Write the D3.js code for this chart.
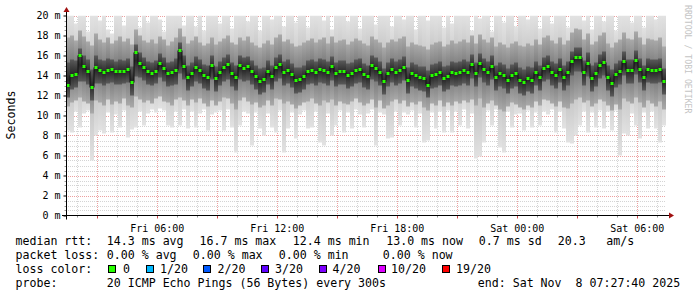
<!DOCTYPE html>
<html lang="en">
<head>
<meta charset="UTF-8">
<title>SmokePing latency</title>
<script src="https://d3js.org/d3.v7.min.js"></script>
<style>
  body { margin: 0; background: #fff; }
  svg text { font-family: "DejaVu Sans Mono", monospace; fill: #000; white-space: pre; }
</style>
</head>
<body>
<script>
    // one value per 12 minute step, ms
    var med = [13.0,14.0,14.1,16.0,14.9,14.4,12.8,14.8,14.5,14.3,
               14.5,14.6,14.4,14.4,14.4,14.6,13.3,16.3,15.2,14.8,
               14.4,14.2,14.4,15.2,14.7,14.2,14.3,14.5,16.5,14.9,
               13.8,14.2,14.8,14.5,14.0,13.8,15.0,13.7,14.3,14.8,
               15.1,14.2,13.8,15.0,14.7,14.9,14.4,13.9,13.4,13.6,
               14.4,13.9,14.8,15.1,14.3,14.5,14.1,13.5,13.6,13.9,
               14.4,14.5,14.3,14.6,14.5,14.3,14.9,14.2,14.4,14.4,
               14.0,14.2,14.5,14.6,14.1,13.9,15.0,14.7,14.3,13.4,
               14.2,14.6,14.3,14.5,14.8,13.5,14.2,14.0,13.8,13.7,
               13.0,14.0,14.1,14.3,13.7,13.9,14.3,14.2,14.3,14.5,
               14.3,15.1,14.2,15.2,14.6,14.3,14.9,13.8,14.2,14.0,
               13.5,14.0,14.2,13.5,13.3,13.7,13.5,14.3,13.8,14.7,
               14.9,14.3,14.0,14.6,13.8,14.3,15.4,15.8,15.8,14.3,
               15.2,13.7,14.2,15.0,15.3,13.8,13.2,14.1,14.4,15.4,
               14.5,14.5,15.5,14.6,13.8,14.6,14.5,14.5,14.6,13.4];

    var lo = [8.5,8.3,10.4,8.8,10.2,10.5,5.5,8.0,8.5,8.2,
              10.3,8.3,10.1,8.8,10.5,7.8,8.6,8.8,10.4,9.0,
              10.2,10.6,10.3,10.7,10.5,9.0,8.8,10.4,9.0,10.6,
              8.7,10.4,8.8,10.2,10.6,8.5,10.1,10.3,10.5,8.5,
              10.6,8.8,6.3,9.0,10.4,10.2,7.0,10.3,8.7,8.0,
              10.2,8.8,8.3,10.5,6.3,8.7,10.3,7.7,10.1,10.5,
              8.7,8.8,10.4,7.3,7.0,10.2,8.0,9.0,10.5,8.3,
              10.3,8.7,10.6,10.1,8.8,10.2,10.6,7.0,10.3,10.1,
              7.7,7.8,10.4,9.0,10.3,10.1,10.5,8.8,10.2,7.3,
              7.5,10.3,8.7,10.4,8.3,10.5,8.3,10.4,9.0,10.6,
              8.7,10.2,5.7,5.9,7.3,10.5,9.0,10.6,6.8,6.3,
              10.4,8.8,10.1,10.2,8.5,10.5,8.8,10.3,9.0,10.4,
              10.1,10.6,8.3,10.4,8.7,7.3,7.2,8.0,9.0,10.4,
              8.3,10.3,8.8,10.5,8.7,10.4,8.5,10.5,6.0,8.2,
              8.0,10.2,9.0,7.7,10.3,8.7,10.4,8.7,7.3,9.0];

    var p1 = [10.9,11.3,11.5,11.8,11.4,11.2,10.2,11.5,11.3,11.0,
              11.6,11.1,11.4,11.2,11.7,11.0,10.8,11.9,11.6,11.3,
              11.5,11.2,11.7,11.9,11.4,11.3,11.0,11.6,11.8,11.5,
              11.0,11.6,11.3,11.7,11.2,10.9,11.5,11.0,11.4,11.8,
              11.7,11.2,10.6,11.5,11.8,11.4,11.1,11.3,10.8,11.0,
              11.5,11.0,11.7,11.6,11.2,11.4,11.1,10.7,11.0,11.3,
              11.4,11.7,11.2,11.0,11.5,11.3,11.6,11.0,11.4,11.2,
              11.1,11.4,11.7,11.3,11.0,11.2,11.6,10.8,11.5,10.7,
              11.0,11.4,11.6,11.2,11.5,10.9,11.3,11.1,11.4,10.8,
              10.5,11.2,11.0,11.5,10.9,11.3,11.0,11.4,11.2,11.5,
              11.3,11.6,11.0,11.7,10.8,11.2,11.5,11.0,10.6,10.4,
              10.9,11.3,11.1,10.8,10.6,11.0,10.8,11.4,11.0,11.6,
              11.5,11.2,10.9,11.4,10.8,10.7,11.2,11.6,11.8,11.3,
              11.5,10.9,11.2,11.6,11.4,11.0,10.5,11.1,10.6,11.7,
              11.4,11.2,11.8,11.3,10.8,11.5,11.2,10.9,11.4,10.6];

    var p2 = [11.8,12.6,12.8,13.4,13.4,13.1,11.5,13.2,13.2,13.0,
              13.2,13.3,13.1,13.1,13.2,13.3,12.0,13.9,13.8,13.5,
              13.1,13.0,13.2,13.8,13.4,12.9,13.0,13.1,14.2,13.6,
              12.5,12.9,13.4,13.2,12.7,12.5,13.6,12.4,13.0,13.4,
              13.6,12.9,12.5,13.6,13.4,13.5,13.1,12.6,12.1,12.3,
              13.1,12.6,13.4,13.7,13.0,13.2,12.8,12.2,12.3,12.6,
              13.1,13.2,13.0,13.3,13.2,13.0,13.5,12.9,13.1,13.1,
              12.7,12.9,13.2,13.3,12.8,12.6,13.6,13.4,13.0,12.1,
              12.9,13.3,13.0,13.2,13.5,12.2,12.9,12.7,12.5,12.4,
              11.8,12.7,12.8,13.0,12.4,12.6,13.0,12.9,13.0,13.2,
              13.0,13.7,12.9,13.8,13.3,13.0,13.6,12.5,12.9,12.7,
              12.2,12.7,12.9,12.2,12.0,12.4,12.2,13.0,12.5,13.4,
              13.6,13.0,12.7,13.3,12.5,13.0,14.0,14.4,14.4,13.0,
              13.9,12.4,12.9,13.7,14.0,12.5,11.9,12.8,13.1,14.0,
              13.2,13.2,14.1,13.3,12.5,13.3,13.2,13.2,13.3,12.1];

    var p3 = [15.3,15.6,15.5,16.7,16.0,15.6,14.6,16.0,15.6,15.5,
              15.7,15.6,15.4,15.6,15.5,15.7,14.9,17.1,16.3,15.8,
              15.4,15.3,15.5,16.2,15.8,15.3,15.4,15.7,17.3,16.0,
              15.0,15.3,15.9,15.6,15.1,15.0,16.0,14.9,15.4,15.8,
              16.1,15.3,15.0,16.0,15.8,15.9,15.5,15.0,14.7,14.8,
              15.5,15.0,15.8,16.1,15.4,15.6,15.2,14.8,14.8,15.0,
              15.5,15.6,15.4,15.7,15.6,15.4,15.9,15.3,15.5,15.5,
              15.2,15.3,15.6,15.7,15.2,15.0,16.0,15.8,15.4,14.7,
              15.3,15.7,15.4,15.6,15.9,14.8,15.3,15.1,14.9,14.9,
              14.5,15.1,15.2,15.4,14.9,15.0,15.4,15.3,15.4,15.6,
              15.4,16.1,15.3,16.2,15.7,15.4,16.0,15.0,15.3,15.1,
              14.7,15.1,15.3,14.8,14.6,14.9,14.8,15.4,15.0,15.8,
              16.0,15.4,15.2,15.7,15.0,15.4,16.4,16.8,16.8,15.5,
              16.3,15.0,15.3,16.1,16.4,15.0,14.6,15.2,15.5,16.4,
              15.6,15.6,16.5,15.7,15.0,15.7,15.6,15.6,15.7,14.7];

    var p4 = [17.8,18.0,17.5,18.5,17.9,17.4,17.0,18.2,17.6,17.3,
              17.8,17.2,17.5,17.9,17.4,17.7,17.1,18.6,18.0,17.5,
              17.3,17.6,17.2,17.9,17.6,17.0,17.4,17.8,18.7,17.9,
              17.2,17.5,17.9,17.3,17.0,17.2,17.8,17.1,17.4,17.7,
              18.0,17.3,17.1,17.8,17.5,17.9,17.3,17.0,16.8,17.2,
              17.5,17.1,17.8,18.1,17.4,17.6,17.2,16.9,17.0,17.3,
              17.5,17.7,17.3,17.6,17.8,17.2,17.9,17.3,17.5,17.6,
              17.1,17.4,17.7,17.5,17.2,17.0,17.9,17.6,17.3,16.8,
              17.3,17.6,17.4,17.7,17.9,16.9,17.3,17.1,17.0,16.9,
              16.6,17.1,17.3,17.4,16.9,17.1,17.5,17.2,17.4,17.6,
              17.3,18.0,17.2,18.1,17.6,17.3,17.8,16.9,17.3,17.1,
              16.8,17.2,17.4,17.0,16.9,17.2,17.0,17.6,17.1,17.8,
              18.0,17.5,17.2,17.8,17.1,17.5,18.3,18.7,18.6,17.6,
              18.2,17.1,17.4,18.0,18.3,17.2,16.8,17.3,17.6,18.3,
              17.7,17.6,18.4,17.8,17.1,17.7,17.6,17.5,17.8,16.9];

    var hi = [20,20,19.2,20,20,18.4,20,20,19.5,20,
              18.6,18.2,20,20,19.0,20,20,20,18.8,20,
              19.3,20,20,19.6,18.4,20,20,20,20,19.0,
              20,20,18.9,20,18.5,20,20,20,19.2,20,
              20,18.7,20,20,20,19.4,20,20,18.5,20,
              20,19.6,20,20,18.9,20,20,19.3,20,20,
              18.8,20,20,20,19.5,20,18.6,20,20,20,
              19.4,20,20,18.7,20,20,20,19.1,20,20,
              20,18.9,20,20,19.6,20,20,18.6,20,20,
              19.5,20,20,20,18.8,20,19.2,20,20,20,
              20,18.5,20,19.7,20,20,18.4,20,20,19.3,
              20,20,18.9,20,20,19.6,20,20,18.7,20,
              20,19.2,20,20,20,18.8,20,20,20,19.5,
              20,18.6,20,20,19.4,20,20,18.5,20,20,
              20,19.3,20,20,18.8,20,20,19.6,20,20];

    var yTicks = [0, 2, 4, 6, 8, 10, 12, 14, 16, 18, 20];
    var lossLabels = ["0", "1/20", "2/20", "3/20", "4/20", "10/20", "19/20"];
    var lossColors = ["#26ff00", "#00b8ff", "#0059ff", "#5e00ff", "#7e00ff", "#dd00ff", "#ff0000"];

    var w = 697;
    var h = 297;
    var stepMs = 720 * 1000;
    var start = Date.UTC(2025, 10, 7, 1, 27, 40);
    var end = Date.UTC(2025, 10, 8, 7, 27, 40);

    var rows = med.map(function(m, i) {
        return { t: start + i * stepMs, med: m, lo: lo[i], p1: p1[i], p2: p2[i], p3: p3[i], p4: p4[i], hi: hi[i] };
    });

    var svg = d3.select("body")
                .append("svg")
                .attr("width", w)
                .attr("height", h);

    var xScale = d3.scaleUtc()
                   .domain([start, end])
                   .range([66, 666]);

    var yScale = d3.scaleLinear()
                   .domain([0, 20])
                   .range([215.5, 15.5]);

    var defs = svg.append("defs");
    defs.append("clipPath").attr("id", "plot")
        .append("rect")
        .attr("x", xScale(start)).attr("y", yScale(20))
        .attr("width", xScale(end) - xScale(start))
        .attr("height", yScale(0) - yScale(20));

    // smoke bands, outer to inner: edge colour, centre colour
    var bands = [["lo", "hi", "#e2e2e2", "#bcbcbc"],
                 ["p1", "p4", "#a9a9a9", "#707070"],
                 ["p2", "p3", "#5a5a5a", "#262626"]];

    bands.forEach(function(b, i) {
        var g = defs.append("linearGradient")
                    .attr("id", "band" + i)
                    .attr("x1", 0).attr("y1", 0).attr("x2", 0).attr("y2", 1);
        g.append("stop").attr("offset", "0%").attr("stop-color", b[2]);
        g.append("stop").attr("offset", "50%").attr("stop-color", b[3]);
        g.append("stop").attr("offset", "100%").attr("stop-color", b[2]);
    });

    // grid behind the smoke
    var grid = svg.append("g").attr("shape-rendering", "crispEdges");
    var hourTicks = d3.utcHour.every(1).range(start, end);
    var minorY = d3.range(0, 20.01, 0.5);

    grid.selectAll(".hmin").data(minorY.filter(function(v) { return v % 2 !== 0; }))
        .enter().append("line")
        .attr("x1", xScale(start)).attr("x2", xScale(end))
        .attr("y1", function(d) { return Math.round(yScale(d)) + 0.5; })
        .attr("y2", function(d) { return Math.round(yScale(d)) + 0.5; })
        .attr("stroke", "#d4d4d4").attr("stroke-dasharray", "1,1");

    grid.selectAll(".vmin").data(hourTicks.filter(function(d) { return d.getUTCHours() % 3 !== 0; }))
        .enter().append("line")
        .attr("x1", function(d) { return Math.round(xScale(d)) + 0.5; })
        .attr("x2", function(d) { return Math.round(xScale(d)) + 0.5; })
        .attr("y1", yScale(0)).attr("y2", yScale(20))
        .attr("stroke", "#d4d4d4").attr("stroke-dasharray", "1,1");

    grid.selectAll(".hmaj").data(yTicks.slice(1))
        .enter().append("line")
        .attr("x1", xScale(start)).attr("x2", xScale(end))
        .attr("y1", function(d) { return Math.round(yScale(d)) + 0.5; })
        .attr("y2", function(d) { return Math.round(yScale(d)) + 0.5; })
        .attr("stroke", "#eca0a0").attr("stroke-dasharray", "1,1");

    grid.selectAll(".vmaj").data(hourTicks.filter(function(d) { return d.getUTCHours() % 3 === 0; }))
        .enter().append("line")
        .attr("x1", function(d) { return Math.round(xScale(d)) + 0.5; })
        .attr("x2", function(d) { return Math.round(xScale(d)) + 0.5; })
        .attr("y1", yScale(0)).attr("y2", yScale(20))
        .attr("stroke", "#eca0a0").attr("stroke-dasharray", "1,1");

    var smoke = svg.append("g").attr("clip-path", "url(#plot)");

    bands.forEach(function(b, i) {
        smoke.append("g")
             .attr("fill", "url(#band" + i + ")")
             .selectAll("rect")
             .data(rows)
             .enter()
             .append("rect")
             .attr("x", function(d) { return xScale(d.t); })
             .attr("width", function(d) { return xScale(d.t + stepMs) - xScale(d.t); })
             .attr("y", function(d) { return yScale(Math.min(d[b[1]], 20.5)); })
             .attr("height", function(d) { return yScale(d[b[0]]) - yScale(Math.min(d[b[1]], 20.5)); });
    });

    // median: dark trace with loss coloured dots
    smoke.append("path")
         .datum(rows)
         .attr("fill", "none")
         .attr("stroke", "#111")
         .attr("stroke-width", 1)
         .attr("d", d3.line()
             .curve(d3.curveStepAfter)
             .x(function(d) { return xScale(d.t); })
             .y(function(d) { return yScale(d.med); }));

    smoke.append("g")
         .attr("fill", lossColors[0])
         .selectAll("rect")
         .data(rows)
         .enter()
         .append("rect")
         .attr("x", function(d) { return xScale(d.t) + 0.5; })
         .attr("y", function(d) { return yScale(d.med) - 1.5; })
         .attr("width", 3)
         .attr("height", 3);

    // axes
    var yAxis = d3.axisLeft(yScale)
                  .tickValues(yTicks)
                  .tickSize(3)
                  .tickFormat(function(d) { return d + " m"; });
    var ya = svg.append("g")
                .attr("transform", "translate(" + (xScale(start) + 0.5) + ",0)")
                .call(yAxis);
    ya.select(".domain").remove();
    ya.selectAll("line").attr("stroke", "#000");
    ya.selectAll("text").attr("x", -6).attr("font-size", "10px")
      .attr("font-family", "DejaVu Sans Mono");

    svg.append("g").selectAll("line")
       .data(minorY.filter(function(v) { return v % 2 !== 0; }))
       .enter().append("line")
       .attr("x1", xScale(start) - 1.5).attr("x2", xScale(start))
       .attr("y1", function(d) { return Math.round(yScale(d)) + 0.5; })
       .attr("y2", function(d) { return Math.round(yScale(d)) + 0.5; })
       .attr("stroke", "#999");

    var xAxis = d3.axisBottom(xScale)
                  .tickValues(d3.utcHour.every(6).range(start, end))
                  .tickSize(0)
                  .tickFormat(d3.utcFormat("%a %H:%M"));
    var xa = svg.append("g")
                .attr("transform", "translate(0," + (yScale(0)) + ")")
                .call(xAxis);
    xa.select(".domain").remove();
    xa.selectAll("text").attr("y", 9).attr("font-size", "10px")
      .attr("font-family", "DejaVu Sans Mono");

    svg.append("g").selectAll("line")
       .data(hourTicks)
       .enter().append("line")
       .attr("x1", function(d) { return Math.round(xScale(d)) + 0.5; })
       .attr("x2", function(d) { return Math.round(xScale(d)) + 0.5; })
       .attr("y1", yScale(0))
       .attr("y2", function(d) { return yScale(0) + (d.getUTCHours() % 3 === 0 ? 3 : 2); })
       .attr("stroke", function(d) { return d.getUTCHours() % 3 === 0 ? "#d05050" : "#999"; });

    // axis lines with arrows
    svg.append("line")
       .attr("x1", 62).attr("x2", 670)
       .attr("y1", yScale(0)).attr("y2", yScale(0))
       .attr("stroke", "#000");
    svg.append("line")
       .attr("x1", xScale(start) + 0.5).attr("x2", xScale(start) + 0.5)
       .attr("y1", yScale(0) + 4).attr("y2", 11)
       .attr("stroke", "#000");
    svg.append("path")
       .attr("d", "M" + (xScale(start) - 2.5) + ",12L" + (xScale(start) + 3.5) + ",12L" + (xScale(start) + 0.5) + ",7Z")
       .attr("fill", "#a01010");
    svg.append("path")
       .attr("d", "M669," + (yScale(0) - 3) + "L669," + (yScale(0) + 3) + "L674," + yScale(0) + "Z")
       .attr("fill", "#a01010");

    svg.append("text")
       .attr("transform", "translate(15,115) rotate(-90)")
       .attr("text-anchor", "middle")
       .attr("font-size", "11.6px")
       .text("Seconds");

    svg.append("text")
       .attr("transform", "translate(685,5) rotate(90)")
       .attr("font-size", "8.2px")
       .style("fill", "#c4c4c4")
       .text("RRDTOOL / TOBI OETIKER");

    // legend
    var legend = svg.append("g").attr("font-size", "11.6px");
    var legendRows = [
        [[16, "median rtt:"], [107.3, "14.3 ms avg"], [200, "16.7 ms max"], [293.3, "12.4 ms min"],
         [386.7, "13.0 ms now"], [479.3, "0.7 ms sd"], [558.3, "20.3"], [606.7, "am/s"]],
        [[16, "packet loss:"], [107.3, "0.00 % avg"], [193.3, "0.00 % max"], [279.3, "0.00 % min"],
         [383.3, "0.00 % now"]],
        [[16, "loss color:"]],
        [[16, "probe:"], [107.3, "20 ICMP Echo Pings (56 Bytes) every 300s"], [478.3, "end: Sat Nov  8 07:27:40 2025"]]
    ];
    legendRows.forEach(function(r, i) {
        r.forEach(function(s) {
            legend.append("text")
                  .attr("x", s[0] - 0.5)
                  .attr("y", 245 + i * 14)
                  .text(s[1]);
        });
    });

    var boxX = [108.3, 145.7, 203.3, 261, 319, 377.7, 441.7];
    var labelX = [123, 160, 217.5, 275, 332.5, 391, 456];
    lossLabels.forEach(function(l, i) {
        legend.append("rect")
              .attr("x", Math.round(boxX[i]) + 0.5).attr("y", 265.5)
              .attr("width", 7).attr("height", 7)
              .attr("fill", lossColors[i])
              .attr("stroke", "#000");
        legend.append("text")
              .attr("x", labelX[i]).attr("y", 273)
              .text(l);
    });
</script>
</body>
</html>
